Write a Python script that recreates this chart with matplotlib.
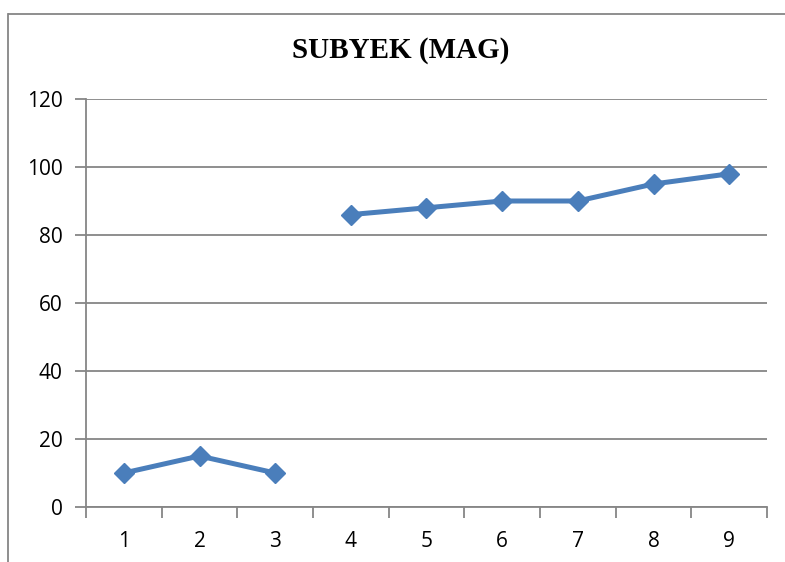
import matplotlib
import matplotlib.pyplot as plt
from matplotlib.lines import Line2D

matplotlib.use("Agg")

# Data
categories = [1, 2, 3, 4, 5, 6, 7, 8, 9]
values = [10, 15, 10, 86, 88, 90, 90, 95, 98]
segments = [(0, 3), (3, 9)]  # line is broken between 3 and 4

y_ticks = [0, 20, 40, 60, 80, 100, 120]
title = "SUBYEK (MAG)"

line_color = "#4a7ebb"
axis_color = "#868686"

W, H = 785, 562
fig = plt.figure(figsize=(W / 100, H / 100), dpi=100)
ax = fig.add_axes([86 / W, 1 - 507 / H, (767 - 86) / W, (507 - 99) / H])

# Chart frame: only the top and left edges fall inside the image
fx, fy = 7.5 / W, 1 - 13.5 / H
fig.lines.append(Line2D([fx, 1.0], [fy, fy], transform=fig.transFigure,
                        color=axis_color, linewidth=1.3, solid_capstyle="butt"))
fig.lines.append(Line2D([fx, fx], [fy, 0.0], transform=fig.transFigure,
                        color=axis_color, linewidth=1.3))

n = len(categories)
for start, stop in segments:
    xs = list(range(start, stop))
    ax.plot(xs, values[start:stop], color=line_color, linewidth=3.6,
            marker="D", markersize=10.5, markerfacecolor=line_color,
            markeredgecolor=line_color, zorder=3, clip_on=False)

ax.set_xlim(-0.5, n - 0.5)
ax.set_ylim(0, 120)
ax.set_yticks(y_ticks)
ax.set_xticks(range(n))
ax.set_xticklabels([str(c) for c in categories])
ax.set_xticks([i - 0.5 for i in range(n + 1)], minor=True)

ax.yaxis.grid(True, color=axis_color, linewidth=1.3)
ax.set_axisbelow(True)
for side in ["top", "right"]:
    ax.spines[side].set_visible(False)
for side in ["left", "bottom"]:
    ax.spines[side].set_color(axis_color)
    ax.spines[side].set_linewidth(1.3)

ax.tick_params(axis="x", which="major", length=0, pad=17, labelsize=15)
ax.tick_params(axis="x", which="minor", length=8, width=1.3, color=axis_color)
ax.tick_params(axis="y", length=8, width=1.3, color=axis_color, pad=9, labelsize=15)
for lbl in ax.get_xticklabels() + ax.get_yticklabels():
    lbl.set_fontfamily(["Open Sans", "DejaVu Sans"])

fig.text(401 / W, 1 - 50 / H, title, ha="center", va="center",
         fontsize=21, fontweight="bold", family="Liberation Serif")

fig.savefig("out.png", dpi=100)
plt.close(fig)
